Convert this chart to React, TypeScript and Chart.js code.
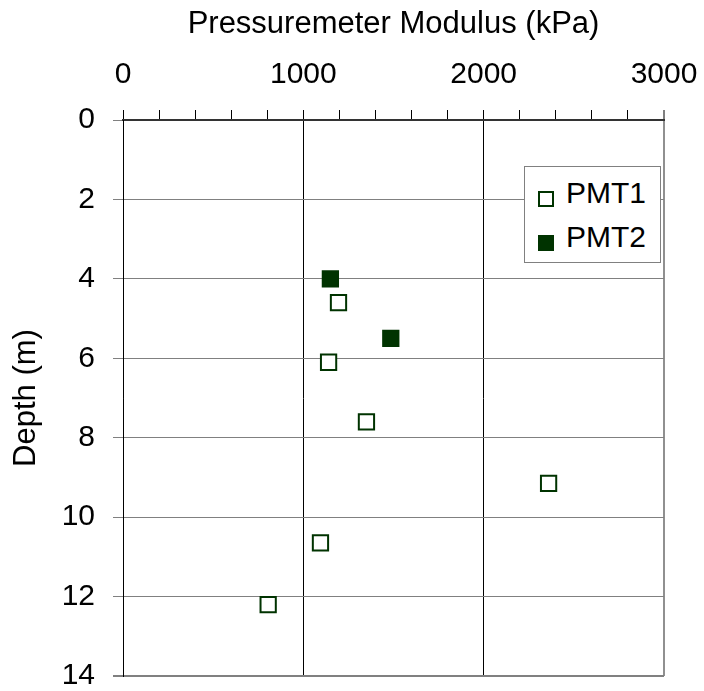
import React, { useEffect, useRef } from 'react';
import { Chart, registerables } from 'chart.js';

Chart.register(...registerables);

const FONT = '"Liberation Sans", Arial, Helvetica, sans-serif';
const GREEN = '#003300';

// Data
const seriesNames = ['PMT1', 'PMT2'];
const pmt1Modulus = [1195, 1140, 1350, 2360, 1095, 805];
const pmt1Depth = [4.6, 6.1, 7.6, 9.15, 10.65, 12.2];
const pmt2Modulus = [1150, 1485];
const pmt2Depth = [4.0, 5.5];

const xTitle = 'Pressuremeter Modulus (kPa)';
const yTitle = 'Depth (m)';
const xMin = 0;
const xMax = 3000;
const xMajor = 1000;
const xMinor = 200;
const yMin = 0;
const yMax = 14;
const yStep = 2;

export default function App() {
  const canvasRef = useRef<HTMLCanvasElement | null>(null);

  useEffect(() => {
    const canvas = canvasRef.current;
    if (!canvas) return;
    const chart = new Chart(canvas, {
      type: 'scatter',
      data: {
        datasets: [
          {
            label: seriesNames[0],
            data: pmt1Modulus.map((x, i) => ({ x, y: pmt1Depth[i] })),
            pointStyle: 'rect',
            pointRadius: 10.8,
            pointHoverRadius: 10.8,
            pointBorderWidth: 2,
            borderColor: GREEN,
            backgroundColor: '#ffffff',
            showLine: false,
          },
          {
            label: seriesNames[1],
            data: pmt2Modulus.map((x, i) => ({ x, y: pmt2Depth[i] })),
            pointStyle: 'rect',
            pointRadius: 10.8,
            pointHoverRadius: 10.8,
            pointBorderWidth: 2,
            borderColor: GREEN,
            backgroundColor: GREEN,
            showLine: false,
          },
        ],
      },
      options: {
        animation: false,
        responsive: true,
        maintainAspectRatio: false,
        layout: { padding: { left: 0, top: 0, right: 40, bottom: 15 } },
        plugins: {
          legend: { display: false },
          tooltip: { enabled: false },
        },
        scales: {
          x: {
            type: 'linear',
            position: 'top',
            min: xMin,
            max: xMax,
            afterFit: (s: any) => {
              s.height = 120;
              s.paddingLeft = 0;
              s.paddingRight = 0;
            },
            ticks: {
              stepSize: xMinor,
              autoSkip: false,
              maxRotation: 0,
              minRotation: 0,
              color: '#000',
              padding: 17,
              font: { family: FONT, size: 30, lineHeight: 1.2 },
              callback: (v: any) => (Number(v) % xMajor === 0 ? String(v) : ''),
            },
            grid: {
              color: (c: any) => {
                const v = c.tick ? c.tick.value : 0;
                if (v === xMax) return '#909090';
                return v % xMajor === 0 ? '#000000' : 'rgba(0,0,0,0)';
              },
              lineWidth: (c: any) => (c.tick && c.tick.value === xMax ? 2 : 1),
              tickColor: '#000000',
              tickLength: 10,
              tickWidth: 1,
            },
            border: { color: '#333333', width: 2 },
            title: {
              display: true,
              text: xTitle,
              color: '#000',
              font: { family: FONT, size: 31, lineHeight: 1.2 },
              padding: { top: 6, bottom: 0 },
            },
          },
          y: {
            type: 'linear',
            reverse: true,
            min: yMin,
            max: yMax,
            afterFit: (s: any) => {
              s.width = 123;
              s.paddingTop = 0;
              s.paddingBottom = 0;
            },
            ticks: {
              stepSize: yStep,
              color: '#000',
              padding: 18,
              font: { family: FONT, size: 30, lineHeight: 1 },
            },
            grid: {
              color: (c: any) => (c.tick && c.tick.value === yMin ? '#333333' : '#808080'),
              lineWidth: (c: any) => (c.tick && c.tick.value === yMax ? 2 : 1),
              tickColor: '#808080',
              tickLength: 10,
            },
            border: { color: '#000000', width: 1 },
            title: {
              display: true,
              text: yTitle,
              color: '#000',
              font: { family: FONT, size: 31, lineHeight: 1.2 },
              padding: { top: 8, bottom: 0 },
            },
          },
        },
      },
    });
    return () => chart.destroy();
  }, []);

  const textStyle: React.CSSProperties = {
    position: 'absolute',
    left: 566,
    fontFamily: FONT,
    fontSize: 30,
    lineHeight: '36px',
    color: '#000',
    whiteSpace: 'nowrap',
  };

  return (
    <div style={{ position: 'fixed', left: 0, top: 0, width: 704, height: 691, background: '#fff' }}>
      <canvas ref={canvasRef} style={{ display: 'block' }} />
      <div
        style={{
          position: 'absolute',
          left: 524,
          top: 166,
          width: 137,
          height: 97,
          border: '1px solid #808080',
          background: '#fff',
          boxSizing: 'border-box',
        }}
      />
      <div
        style={{
          position: 'absolute',
          left: 538,
          top: 191,
          width: 16,
          height: 16,
          border: `2px solid ${GREEN}`,
          background: '#fff',
          boxSizing: 'border-box',
        }}
      />
      <div style={{ ...textStyle, top: 175 }}>{seriesNames[0]}</div>
      <div
        style={{
          position: 'absolute',
          left: 538,
          top: 235,
          width: 16,
          height: 16,
          background: GREEN,
        }}
      />
      <div style={{ ...textStyle, top: 219 }}>{seriesNames[1]}</div>
    </div>
  );
}
